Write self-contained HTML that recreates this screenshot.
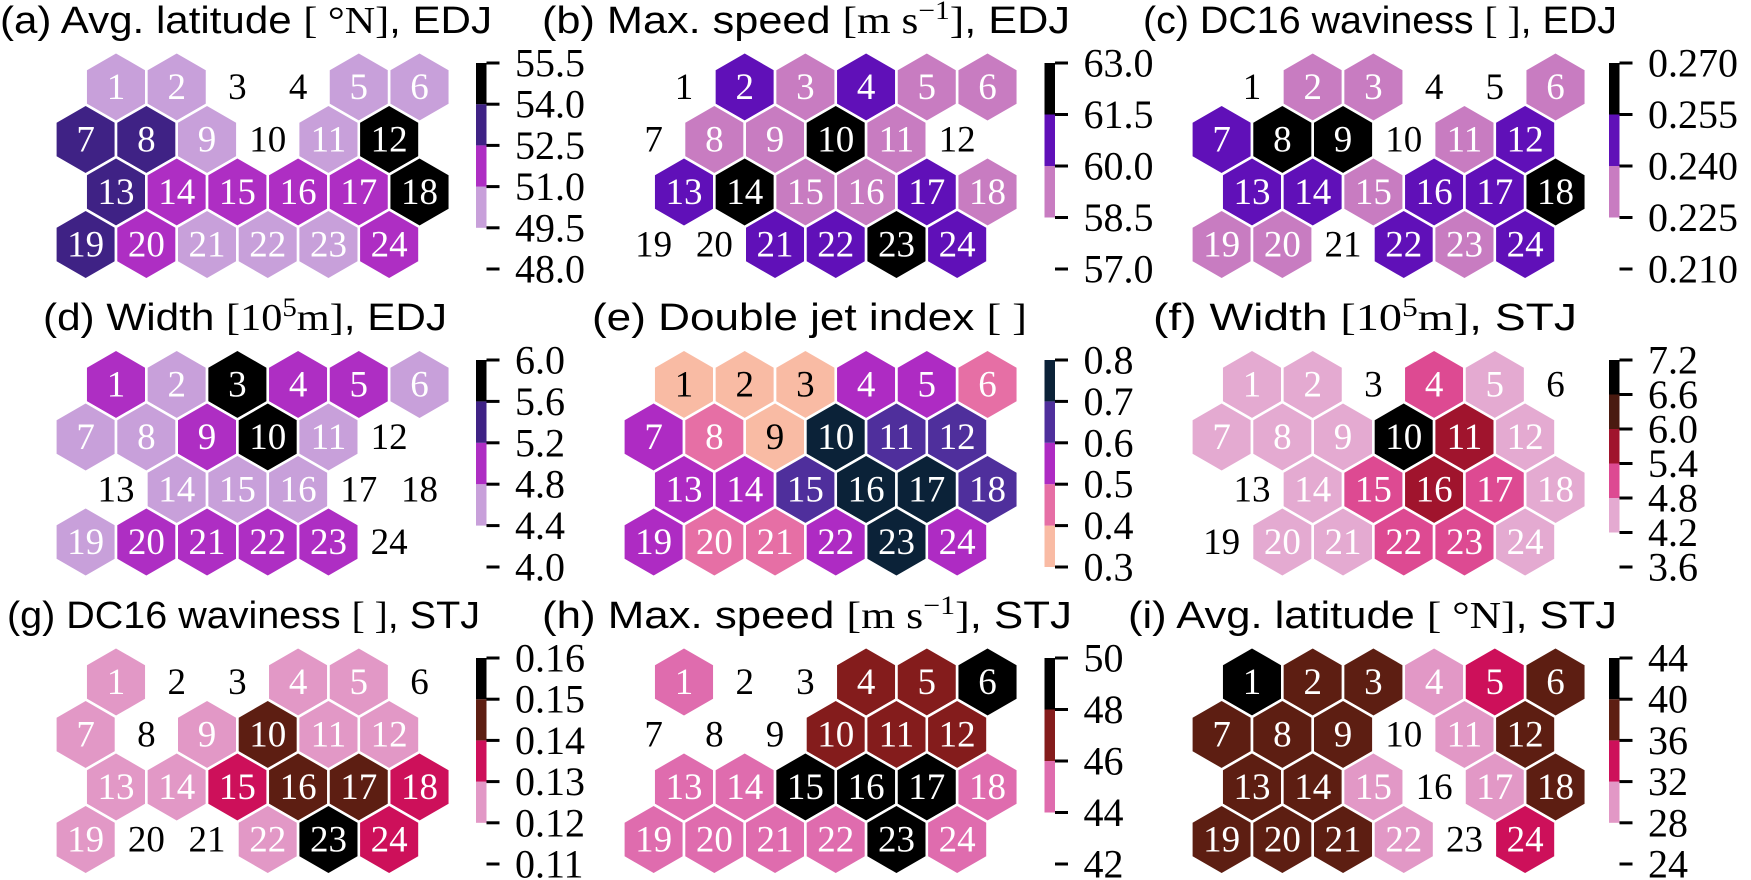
<!DOCTYPE html>
<html><head><meta charset="utf-8"><style>
html,body{margin:0;padding:0;background:#fff;}
svg{display:block;}
.t{font-family:"Liberation Sans",sans-serif;font-size:38px;fill:#000;}
.m{font-family:"Liberation Serif",serif;}
.n{font-family:"Liberation Serif",serif;}
</style></head><body>
<svg id="fig" width="1751" height="880" viewBox="0 0 1751 880" xmlns="http://www.w3.org/2000/svg">
<rect width="1751" height="880" fill="#fff"/>
<text class="t" x="0" y="33" textLength="492" lengthAdjust="spacingAndGlyphs">(a) Avg. latitude <tspan class="m">[ °N]</tspan>, EDJ</text>
<text class="t" x="542" y="33" textLength="528" lengthAdjust="spacingAndGlyphs">(b) Max. speed <tspan class="m">[m  s<tspan font-size="26" dy="-14">−1</tspan><tspan dy="14">]</tspan></tspan>, EDJ</text>
<text class="t" x="1143" y="33" textLength="474" lengthAdjust="spacingAndGlyphs">(c) DC16 waviness <tspan class="m">[ ]</tspan>, EDJ</text>
<text class="t" x="43" y="330" textLength="404" lengthAdjust="spacingAndGlyphs">(d) Width <tspan class="m">[10<tspan font-size="26" dy="-14">5</tspan><tspan dy="14">m]</tspan></tspan>, EDJ</text>
<text class="t" x="592" y="330" textLength="435" lengthAdjust="spacingAndGlyphs">(e) Double jet index <tspan class="m">[ ]</tspan></text>
<text class="t" x="1153" y="330" textLength="424" lengthAdjust="spacingAndGlyphs">(f) Width <tspan class="m">[10<tspan font-size="26" dy="-14">5</tspan><tspan dy="14">m]</tspan></tspan>, STJ</text>
<text class="t" x="7" y="628" textLength="473" lengthAdjust="spacingAndGlyphs">(g) DC16 waviness <tspan class="m">[ ]</tspan>, STJ</text>
<text class="t" x="542" y="628" textLength="530" lengthAdjust="spacingAndGlyphs">(h) Max. speed <tspan class="m">[m  s<tspan font-size="26" dy="-14">−1</tspan><tspan dy="14">]</tspan></tspan>, STJ</text>
<text class="t" x="1128" y="628" textLength="489" lengthAdjust="spacingAndGlyphs">(i) Avg. latitude <tspan class="m">[ °N]</tspan>, STJ</text>
</svg>
<script>
// ---- data ----
const nodeIds = [1,2,3,4,5,6,7,8,9,10,11,12,13,14,15,16,17,18,19,20,21,22,23,24];
const valsA = [50.3,50.1,49.2,48.9,50.6,50.4, 53.1,53.4,50.5,49.3,50.8,55.0, 53.0,51.8,51.6,51.9,51.5,54.7, 53.3,51.7,50.9,50.7,50.8,51.4];
const valsB = [58.1,60.7,59.3,60.9,59.4,59.0, 58.2,59.1,59.6,62.3,59.5,58.3, 60.6,62.0,59.2,59.4,60.8,59.3, 57.9,58.2,61.0,60.9,62.4,60.7];
const valsC = [0.221,0.233,0.231,0.219,0.222,0.234, 0.247,0.262,0.263,0.220,0.232,0.249, 0.246,0.245,0.231,0.250,0.248,0.261, 0.233,0.234,0.221,0.246,0.232,0.247];
const valsD = [5.0,4.6,5.8,4.9,5.1,4.5, 4.6,4.7,5.0,5.9,4.6,4.3, 4.2,4.5,4.6,4.7,4.3,4.2, 4.5,5.0,5.1,4.9,5.0,4.3];
const valsE = [0.34,0.36,0.37,0.56,0.55,0.46, 0.54,0.45,0.38,0.74,0.66,0.65, 0.55,0.57,0.64,0.76,0.75,0.65, 0.56,0.44,0.46,0.55,0.73,0.54];
const valsF = [4.5,4.6,4.0,5.1,4.4,3.9, 4.5,4.6,4.7,6.9,5.7,4.5, 4.1,4.6,5.2,5.8,5.0,4.5, 4.0,4.4,4.6,5.1,5.2,4.5];
const valsG = [0.124,0.116,0.115,0.125,0.126,0.117, 0.124,0.114,0.126,0.145,0.125,0.127, 0.124,0.123,0.134,0.146,0.144,0.136, 0.125,0.116,0.115,0.124,0.155,0.135];
const valsH = [45.0,43.2,43.5,47.1,46.8,49.0, 43.0,43.1,43.6,47.0,47.2,46.9, 45.1,45.2,48.8,49.2,48.9,44.8, 45.3,44.9,45.0,45.2,49.1,44.7];
const valsI = [42.0,38.1,37.9,30.2,34.0,38.3, 38.0,37.8,38.2,26.5,30.1,38.4, 38.5,37.7,30.3,27.0,29.9,38.1, 38.6,38.2,37.9,30.4,27.2,33.8];

const levelsA = [48.0,49.5,51.0,52.5,54.0,55.5];
const levelsB = [57.0,58.5,60.0,61.5,63.0];
const levelsC = [0.210,0.225,0.240,0.255,0.270];
const levelsD = [4.0,4.4,4.8,5.2,5.6,6.0];
const levelsE = [0.3,0.4,0.5,0.6,0.7,0.8];
const levelsF = [3.6,4.2,4.8,5.4,6.0,6.6,7.2];
const levelsG = [0.11,0.12,0.13,0.14,0.15,0.16];
const levelsH = [42,44,46,48,50];
const levelsI = [24,28,32,36,40,44];

const tickLabelsA = ["48.0","49.5","51.0","52.5","54.0","55.5"];
const tickLabelsB = ["57.0","58.5","60.0","61.5","63.0"];
const tickLabelsC = ["0.210","0.225","0.240","0.255","0.270"];
const tickLabelsD = ["4.0","4.4","4.8","5.2","5.6","6.0"];
const tickLabelsE = ["0.3","0.4","0.5","0.6","0.7","0.8"];
const tickLabelsF = ["3.6","4.2","4.8","5.4","6.0","6.6","7.2"];
const tickLabelsG = ["0.11","0.12","0.13","0.14","0.15","0.16"];
const tickLabelsH = ["42","44","46","48","50"];
const tickLabelsI = ["24","28","32","36","40","44"];

// ---- styles / layout ----
const W = "#ffffff";
const palPurple = [W,"#c8a0da","#ae2ec3","#3f2285","#000000"];
const palViolet = [W,"#c87cc1","#6010b8","#000000"];
const palE = ["#f9bba4","#e66fa5","#ae2bc3","#4f2f9c","#0b2238"];
const palF = [W,"#e4aad1","#dd4a92","#a0142d","#4a1a10","#000000"];
const palG = [W,"#e298c6","#cd105a","#5d1e12","#000000"];
const palH = [W,"#df6cae","#841c1c","#000000"];
const colX = [116,684,1252];
const rowY = [87,384.5,682];
const cbX = [476,1044.5,1609];
const cbTop = [63,360,658];
const cbBot = [269,567,864];
const panels = [
 {id:"a",c:0,r:0,vals:valsA,lev:levelsA,lab:tickLabelsA,pal:palPurple},
 {id:"b",c:1,r:0,vals:valsB,lev:levelsB,lab:tickLabelsB,pal:palViolet},
 {id:"c",c:2,r:0,vals:valsC,lev:levelsC,lab:tickLabelsC,pal:palViolet},
 {id:"d",c:0,r:1,vals:valsD,lev:levelsD,lab:tickLabelsD,pal:palPurple},
 {id:"e",c:1,r:1,vals:valsE,lev:levelsE,lab:tickLabelsE,pal:palE},
 {id:"f",c:2,r:1,vals:valsF,lev:levelsF,lab:tickLabelsF,pal:palF},
 {id:"g",c:0,r:2,vals:valsG,lev:levelsG,lab:tickLabelsG,pal:palG},
 {id:"h",c:1,r:2,vals:valsH,lev:levelsH,lab:tickLabelsH,pal:palH},
 {id:"i",c:2,r:2,vals:valsI,lev:levelsI,lab:tickLabelsI,pal:palG}
];
const PITCH = 60.7, RPITCH = 52.5, R = PITCH/Math.sqrt(3);
const NS = "http://www.w3.org/2000/svg";
const svg = document.getElementById("fig");

function binOf(v, lev){
  for(let k=0;k<lev.length-1;k++){ if(v>=lev[k] && v<lev[k+1]) return k; }
  return v<lev[0]?0:lev.length-2;
}
function hexPts(cx,cy){
  const p=[];
  for(let k=0;k<6;k++){const a=Math.PI/180*(60*k-90);p.push((cx+R*Math.cos(a)).toFixed(2)+","+(cy+R*Math.sin(a)).toFixed(2));}
  return p.join(" ");
}

panels.forEach(P=>{
  const g = document.createElementNS(NS,"g");
  
  
  svg.appendChild(g);
  const x0 = colX[P.c], y0 = rowY[P.r];
  P.vals.forEach((v,i)=>{
    const row = Math.floor(i/6), col = i%6;
    const cx = x0 + col*PITCH - (row%2 ? PITCH/2 : 0);
    const cy = y0 + row*RPITCH;
    const b = binOf(v,P.lev);
    const fill = P.pal[b];
    const isWhite = fill===W;
    if(!isWhite){
      const poly = document.createElementNS(NS,"polygon");
      
      
      poly.setAttribute("points",hexPts(cx,cy));
      poly.setAttribute("fill",fill);
      poly.setAttribute("stroke","#fff");
      poly.setAttribute("stroke-width","2.6");
      g.appendChild(poly);
    }
    const t = document.createElementNS(NS,"text");
    
    
    t.setAttribute("class","n");
    t.setAttribute("x",cx); t.setAttribute("y",cy+12);
    t.setAttribute("text-anchor","middle");
    t.setAttribute("font-size","37");
    const dark = isWhite || (P.id==="e" && b===0);
    t.setAttribute("fill",dark?"#000":"#fff");
    t.textContent = nodeIds[i];
    g.appendChild(t);
  });
  // colorbar
  const cx = cbX[P.c], top = cbTop[P.r], bot = cbBot[P.r];
  const lo = P.lev[0], hi = P.lev[P.lev.length-1];
  const yS = v => top + (hi - v)/(hi - lo)*(bot - top);
  for(let k=0;k<P.lev.length-1;k++){
    const col = P.pal[k];
    if(col===W) continue;
    const r = document.createElementNS(NS,"rect");
    
    
    r.setAttribute("x",cx); r.setAttribute("width",10.5);
    r.setAttribute("y",yS(P.lev[k+1])); r.setAttribute("height",yS(P.lev[k])-yS(P.lev[k+1]));
    r.setAttribute("fill",col);
    g.appendChild(r);
  }
  P.lev.forEach((lv,k)=>{
    const y = yS(lv);
    const tk = document.createElementNS(NS,"rect");
    
    
    tk.setAttribute("x",cx+10.5); tk.setAttribute("y",y-1.5);
    tk.setAttribute("width",13); tk.setAttribute("height",3);
    tk.setAttribute("fill","#000");
    g.appendChild(tk);
    const lt = document.createElementNS(NS,"text");
    
    
    lt.setAttribute("class","n");
    lt.setAttribute("x",cx+39); lt.setAttribute("y",y+13.5);
    lt.setAttribute("font-size","40");
    lt.setAttribute("fill","#000");
    lt.textContent = P.lab[k];
    g.appendChild(lt);
  });
});
</script>
</body></html>
